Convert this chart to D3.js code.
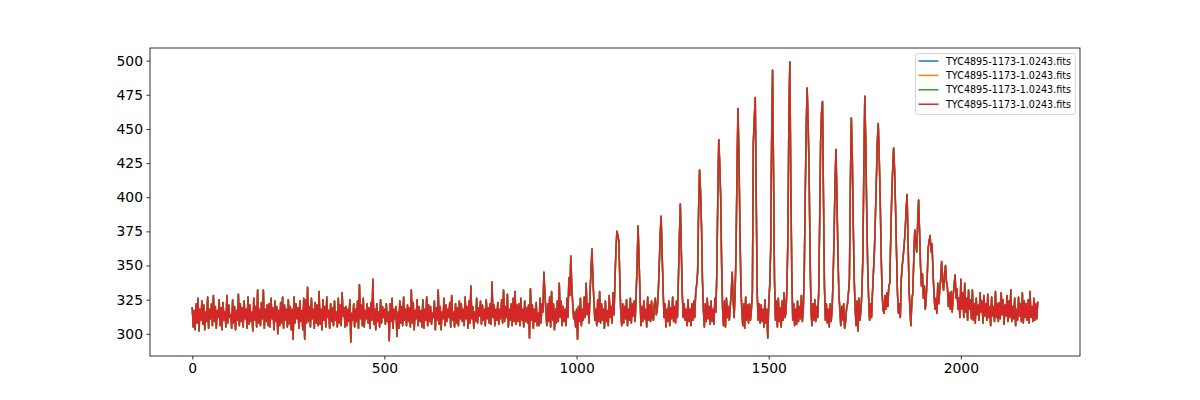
<!DOCTYPE html>
<html><head><meta charset="utf-8">
<script src="https://cdn.jsdelivr.net/npm/d3@7"></script>
<style>body{margin:0;background:#fff}svg{display:block}text{font-family:"DejaVu Sans",sans-serif}</style>
</head><body>
<svg id="c" width="1200" height="400"></svg>
<script>
const seriesNames = ["TYC4895-1173-1.0243.fits","TYC4895-1173-1.0243.fits","TYC4895-1173-1.0243.fits","TYC4895-1173-1.0243.fits"];
const seriesColors = ["#1f77b4","#ff7f0e","#2ca02c","#d62728"];
const xStep = 2.5;
const flux = [
319,305,317,303,322,308,326,302,318,310,324,307,321,303,316,309,327,304,318,311,322,306,328,309,320,304,317,312,325,306,319,303,323,310,316,305,328,308,321,312,
314,304,325,308,320,303,317,310,329,306,322,309,319,305,324,311,318,304,327,307,321,309,316,302,326,310,320,305,332,308,318,306,323,311,332,304,318,309,321,306,
322,305,326,311,319,303,324,309,320,300,317,306,323,308,327,304,321,310,318,305,325,307,320,303,318,296,327,308,322,311,319,304,324,309,317,303,326,296,325,308,
334,309,320,305,326,311,318,304,323,308,321,306,331,307,318,303,325,310,320,305,327,312,317,304,322,309,319,306,324,310,316,305,326,308,321,306,330,313,319,305,
320,306,318,309,325,294,315,310,322,305,318,309,324,304,336,311,321,306,326,305,317,311,322,308,319,304,323,310,340,307,318,303,322,309,316,305,325,308,320,312,
318,307,322,309,316,295,322,309,326,304,318,311,320,298,316,304,324,308,320,306,327,310,318,306,321,309,319,305,332,308,323,303,317,311,325,306,320,309,317,305,
325,304,318,310,327,306,321,309,320,307,315,312,324,303,319,310,332,307,320,303,316,311,326,306,321,309,318,312,323,305,328,310,316,305,322,308,319,306,324,311,
322,309,318,306,327,311,320,304,324,308,335,311,320,304,316,309,326,308,319,313,324,307,321,310,318,306,325,311,319,308,322,307,338,312,321,306,318,310,323,307,
318,311,325,308,332,309,320,312,329,305,318,310,322,306,326,309,331,307,321,309,322,306,326,310,318,305,324,309,319,308,321,297,333,310,321,304,318,309,323,306,
315,306,326,308,322,316,345,330,318,306,322,309,327,305,331,310,322,303,318,308,324,309,337,312,324,306,320,309,318,306,326,312,341,328,357,335,322,311,316,305,
318,296,320,309,326,306,318,310,327,312,337,314,322,308,330,345,362,340,325,310,318,306,325,309,331,308,322,310,318,304,324,309,317,306,328,312,320,308,330,314,
340,362,375,372,368,340,316,306,322,308,320,311,325,306,318,310,326,308,322,313,324,309,329,350,379,355,330,306,320,309,324,311,318,305,327,310,321,309,324,312,
310,322,326,314,318,330,348,372,386,360,335,312,322,305,318,309,324,306,319,311,327,309,320,308,324,312,340,370,395,362,330,312,322,310,318,306,325,309,318,306,
322,310,324,312,330,336,345,390,420,405,380,340,318,305,322,309,326,311,320,307,324,309,318,307,326,316,345,400,442,425,400,350,318,306,324,305,326,312,320,310,
320,330,345,325,312,330,360,420,465,430,380,335,318,306,322,304,327,310,321,308,322,310,318,330,440,458,473,400,330,310,322,308,321,309,318,305,325,308,318,297,
322,335,360,440,493,420,340,310,324,305,326,309,319,305,324,310,330,312,316,335,372,460,499,410,345,310,322,306,318,307,324,309,320,311,328,309,318,345,400,450,
480,455,420,360,318,306,322,310,325,309,320,312,330,380,440,462,470,400,335,310,322,308,318,305,322,309,318,340,370,410,435,400,360,330,318,306,320,310,322,304,
309,318,322,330,340,410,458,430,380,340,318,306,324,302,326,310,318,330,357,420,474,440,390,350,326,310,322,312,330,345,360,385,411,440,454,430,400,360,330,318,
315,328,318,330,320,335,337,370,400,420,436,420,393,360,330,315,322,312,340,350,357,365,375,390,402,370,335,318,306,325,330,355,376,368,360,380,398,375,350,335,
344,326,335,318,328,342,363,368,372,360,366,345,330,318,326,315,337,322,332,340,353,338,332,344,350,338,334,320,330,318,331,316,328,336,343,326,333,318,326,312,
340,318,330,312,337,316,326,310,332,318,325,311,332,310,322,308,326,314,321,310,330,316,324,308,328,313,322,310,329,312,320,306,327,313,320,309,331,312,322,309,
323,311,330,314,325,307,321,313,328,309,324,312,332,309,320,311,326,306,318,310,327,313,322,309,330,308,324,312,322,310,325,308,331,312,320,309,326,310,322,311,
323
];
const xTicks = [0,500,1000,1500,2000];
const yTicks = [300,325,350,375,400,425,450,475,500];

const svg = d3.select("#c");
const L = 150, R = 1080, T = 48, B = 356;
const pts = flux.map((v,i)=>({x:i*xStep, y:v}));
const xmin = d3.min(pts,d=>d.x), xmax = d3.max(pts,d=>d.x);
const ymin = d3.min(pts,d=>d.y), ymax = d3.max(pts,d=>d.y);
const xp = (xmax-xmin)*0.05, yp = (ymax-ymin)*0.05;
const xs = d3.scaleLinear().domain([xmin-xp, xmax+xp]).range([L,R]);
const ys = d3.scaleLinear().domain([ymin-yp, ymax+yp]).range([B,T]);

const line = d3.line().x(d=>xs(d.x)).y(d=>ys(d.y));
const g = svg.append("g");
seriesColors.forEach((c,i)=>{
  g.append("path").datum(pts).attr("d",line).attr("fill","none")
   .attr("stroke",c).attr("stroke-width",1.5).attr("stroke-linejoin","round").attr("stroke-linecap","square");
});

const fs = "13.9px";
const xa = svg.append("g").attr("transform",`translate(0,${B})`)
  .call(d3.axisBottom(xs).tickValues(xTicks).tickSize(3.5).tickPadding(3.5).tickFormat(d3.format("d")));
const ya = svg.append("g").attr("transform",`translate(${L},0)`)
  .call(d3.axisLeft(ys).tickValues(yTicks).tickSize(3.5).tickPadding(3.5).tickFormat(d3.format("d")));
[xa,ya].forEach(a=>{
  a.select(".domain").remove();
  a.selectAll("line").attr("stroke","#000").attr("stroke-width",0.8);
  a.selectAll("text").attr("fill","#000").style("font-size",fs).style("font-family","DejaVu Sans");
});
svg.append("rect").attr("x",L).attr("y",T).attr("width",R-L).attr("height",B-T)
  .attr("fill","none").attr("stroke","#000").attr("stroke-width",0.8);

// legend
const lg = svg.append("g");
lg.append("rect").attr("x",915.5).attr("y",53.5).attr("width",160).attr("height",61)
  .attr("rx",2).attr("fill","#fff").attr("fill-opacity",0.8).attr("stroke","#cccccc").attr("stroke-width",0.8);
seriesNames.forEach((n,i)=>{
  const y = 61 + i*14.4;
  lg.append("line").attr("x1",918.5).attr("x2",938.5).attr("y1",y).attr("y2",y)
    .attr("stroke",seriesColors[i]).attr("stroke-width",1.5);
  lg.append("text").attr("x",946).attr("y",y).attr("dominant-baseline","central")
    .style("font-size","9.6px").attr("fill","#000").text(n);
});
</script>
</body></html>
